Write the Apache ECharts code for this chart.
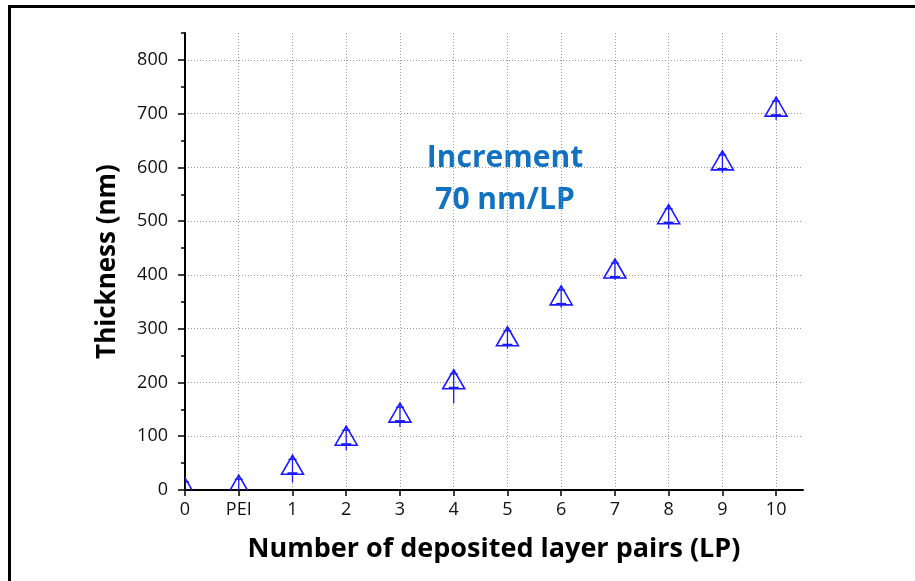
<!DOCTYPE html>
<html>
<head>
<meta charset="utf-8">
<script src="https://cdn.jsdelivr.net/npm/echarts@6/dist/echarts.min.js"></script>
<style>
html,body{margin:0;padding:0;background:#fff;}
#chart{width:915px;height:581px;}
</style>
</head>
<body>
<div id="chart"></div>
<script>
// ---- data ----
const categories = ['0', 'PEI', '1', '2', '3', '4', '5', '6', '7', '8', '9', '10'];
const thickness  = [5, 10, 47, 101, 144, 206, 286, 362, 412, 513, 613, 713];
const errUp      = [10, 10, 10, 10, 10, 10, 10, 10, 10, 10, 10, 10];
const errDown    = [15, 15, 33, 27, 27, 45, 23, 23, 21, 27, 23, 25];
const yTickValues = [0, 100, 200, 300, 400, 500, 600, 700, 800];
const xTickValues = [0, 1, 2, 3, 4, 5, 6, 7, 8, 9, 10, 11];
const annotation = ['Increment', '70 nm/LP'];

const FONT = '"Open Sans", "DejaVu Sans", sans-serif';
const BLUE = '#1a1aff';

const seriesData = thickness.map((v, i) => [i, v, errUp[i], errDown[i]]);

const chart = echarts.init(document.getElementById('chart'), null, {renderer: 'canvas'});

const option = {
  backgroundColor: '#fff',
  animation: false,
  grid: {left: 185, right: 112, top: 33, bottom: 91, containLabel: false},
  xAxis: {
    type: 'value', min: 0, max: 11.5, interval: 1,
    name: 'Number of deposited layer pairs (LP)',
    nameLocation: 'middle', nameGap: 46,
    nameTextStyle: {fontFamily: FONT, fontWeight: 'bold', fontSize: 27, color: '#000'},
    axisLine: {show: true, onZero: false, lineStyle: {color: '#000', width: 2}},
    axisTick: {show: true, inside: false, length: 6, lineStyle: {color: '#000', width: 1.5}, customValues: xTickValues},
    axisLabel: {
      show: true, margin: 11, fontFamily: FONT, fontSize: 18, color: '#111',
      customValues: xTickValues,
      formatter: v => categories[Math.round(v)] !== undefined ? categories[Math.round(v)] : ''
    },
    splitLine: {show: true, lineStyle: {color: '#9a9a9a', width: 1, type: [1, 2]}}
  },
  yAxis: [{
    type: 'value', min: 0, max: 850, interval: 100,
    name: 'Thickness (nm)',
    nameLocation: 'middle', nameGap: 64, nameRotate: 90,
    nameTextStyle: {fontFamily: FONT, fontWeight: 'bold', fontSize: 26, color: '#000'},
    axisLine: {show: true, onZero: false, lineStyle: {color: '#000', width: 2}},
    axisTick: {show: true, inside: false, length: 7, lineStyle: {color: '#000', width: 1.5}, customValues: yTickValues},
    axisLabel: {show: true, margin: 17, fontFamily: FONT, fontSize: 18, color: '#111', customValues: yTickValues},
    splitLine: {show: true, lineStyle: {color: '#9a9a9a', width: 1, type: [1, 2]}}
  }, {
    type: 'value', min: 0, max: 850, interval: 50, position: 'left',
    axisLine: {show: false},
    axisTick: {show: true, inside: false, length: 4, lineStyle: {color: '#000', width: 1.5}},
    axisLabel: {show: false},
    splitLine: {show: false}
  }],
  series: [{
    type: 'custom',
    clip: true,
    coordinateSystem: 'cartesian2d',
    xAxisIndex: 0, yAxisIndex: 0,
    data: seriesData,
    encode: {x: 0, y: 1},
    renderItem: function (params, api) {
      const p = api.coord([api.value(0), api.value(1)]);
      const up = api.coord([api.value(0), api.value(1) + api.value(2)]);
      const dn = api.coord([api.value(0), api.value(1) - api.value(3)]);
      const w = 11, h = 9.5;
      const apexY = p[1] - h, baseY = p[1] + h;
      return {
        type: 'group',
        children: [
          {type: 'line', shape: {x1: p[0], y1: apexY, x2: p[0], y2: dn[1]}, style: {stroke: BLUE, lineWidth: 1.3}},
          {type: 'line', shape: {x1: p[0] - 4, y1: up[1], x2: p[0] + 4, y2: up[1]}, style: {stroke: BLUE, lineWidth: 1.3}},
          {type: 'line', shape: {x1: p[0] - 5, y1: baseY - 1, x2: p[0] + 5, y2: baseY - 1}, style: {stroke: BLUE, lineWidth: 2}},
          {type: 'polygon', shape: {points: [[p[0], apexY], [p[0] + w, baseY], [p[0] - w, baseY]]},
           style: {fill: 'none', stroke: BLUE, lineWidth: 1.6}}
        ]
      };
    }
  }],
  graphic: [
    {type: 'rect', left: 8, top: 5, shape: {width: 3, height: 576}, style: {fill: '#000'}},
    {type: 'rect', left: 8, top: 5, shape: {width: 907, height: 3}, style: {fill: '#000'}},
    {type: 'text', x: 505, y: 158, style: {text: annotation[0], fill: '#1271c1', font: 'bold 30px ' + FONT, textAlign: 'center', textVerticalAlign: 'middle'}},
    {type: 'text', x: 505, y: 200, style: {text: annotation[1], fill: '#1271c1', font: 'bold 30px ' + FONT, textAlign: 'center', textVerticalAlign: 'middle'}}
  ]
};
chart.setOption(option);
</script>
</body>
</html>
